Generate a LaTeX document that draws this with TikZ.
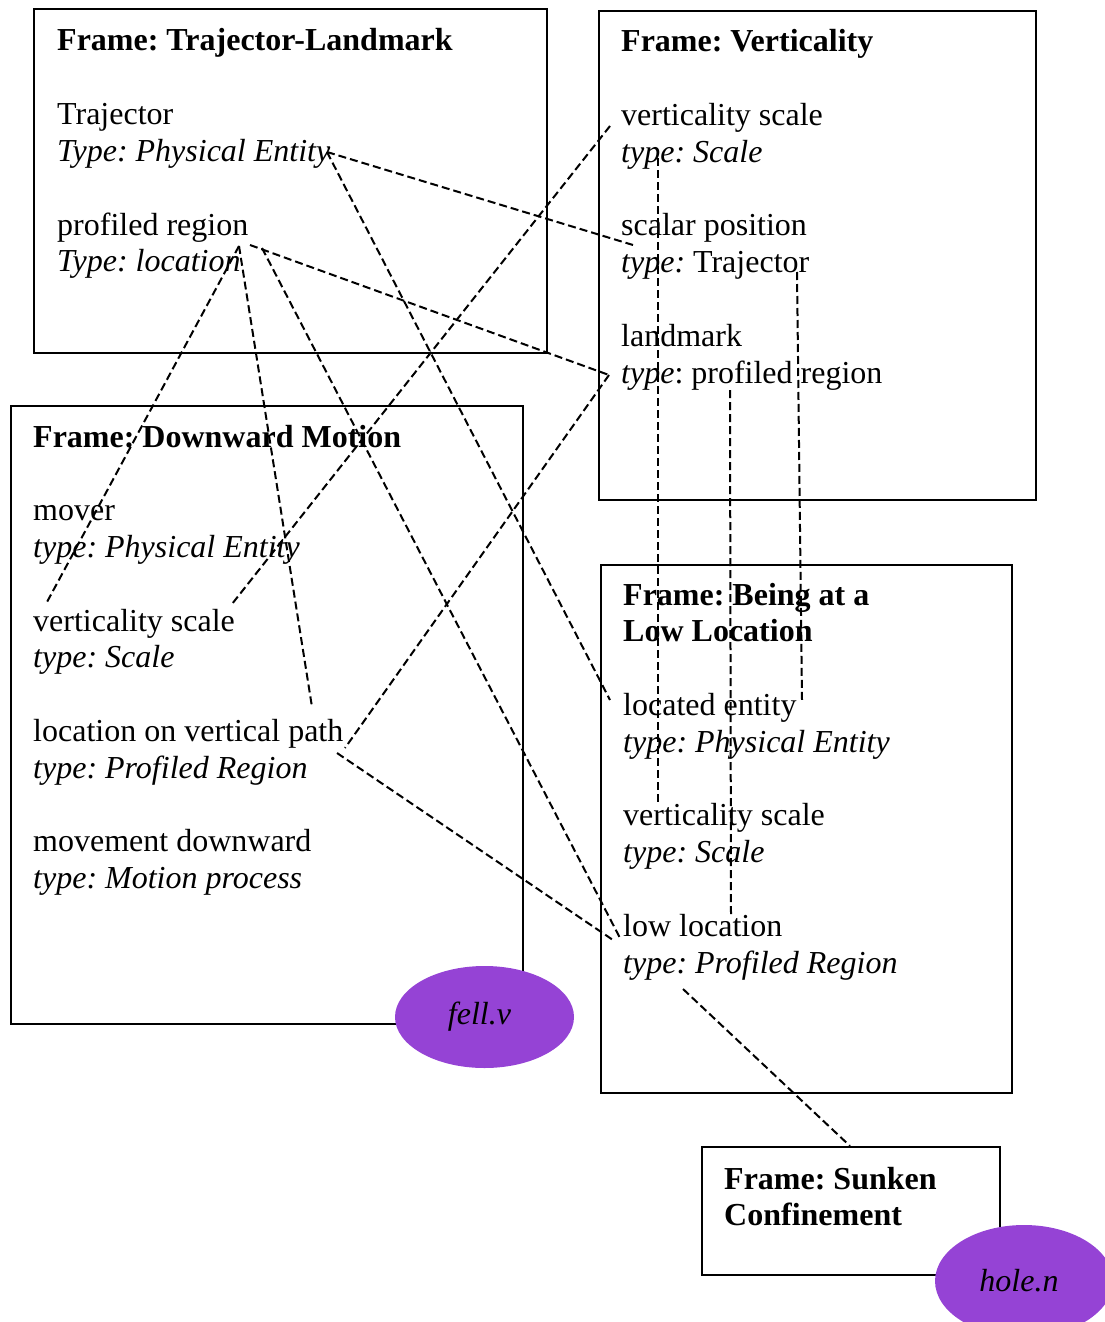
\documentclass[tikz,border=0pt]{standalone}
\usepackage{fontspec}
\setmainfont{Liberation Serif}
\usetikzlibrary{shapes.geometric}
\definecolor{lexpurple}{RGB}{149,67,213}
\tikzset{
  framebox/.style={draw, line width=2.3pt, anchor=north west, inner sep=0pt, outer sep=0pt},
  slots/.style={anchor=base west, inner sep=0pt, font=\fontsize{32}{36.8}\selectfont\frenchspacing},
  link/.style={line width=2pt, dash pattern=on 8pt off 4pt},
  lexunit/.style={ellipse, fill=lexpurple, inner sep=0pt, minimum width=179pt,
                  minimum height=102pt, font=\fontsize{32}{36.8}\selectfont\itshape}
}
\begin{document}
\begin{tikzpicture}[x=1pt, y=-1pt]
\useasboundingbox (0,0) rectangle (1105,1322);
\clip (0,0) rectangle (1105,1322);

% frame boxes
\node[framebox, minimum width=513pt, minimum height=344pt] (tl) at (34,9) {};
\node[framebox, minimum width=437pt, minimum height=489pt] (vt) at (599,11) {};
\node[framebox, minimum width=512pt, minimum height=618pt] (dm) at (11,406) {};
\node[framebox, minimum width=411pt, minimum height=528pt] (bl) at (601,565) {};
\node[framebox, minimum width=298pt, minimum height=128pt] (sc) at (702,1147) {};

% frame contents
\node[slots] (tltext) at (57,51) {\begin{tabular}[t]{@{}l@{}}
\textbf{Frame: Trajector-Landmark}\\
\\
Trajector\\
\textit{Type: Physical Entity}\\
\\
profiled region\\
\textit{Type: location}
\end{tabular}};

\node[slots] (vttext) at (621,52) {\begin{tabular}[t]{@{}l@{}}
\textbf{Frame: Verticality}\\
\\
verticality scale\\
\textit{type: Scale}\\
\\
scalar position\\
\textit{type:} Trajector\\
\\
landmark\\
\textit{type}: profiled region
\end{tabular}};

\node[slots] (dmtext) at (33,447) {\begin{tabular}[t]{@{}l@{}}
\textbf{Frame: Downward Motion}\\
\\
mover\\
\textit{type: Physical Entity}\\
\\
verticality scale\\
\textit{type: Scale}\\
\\
location on vertical path\\
\textit{type: Profiled Region}\\
\\
movement downward\\
\textit{type: Motion process}
\end{tabular}};

\node[slots] (bltext) at (623,605) {\begin{tabular}[t]{@{}l@{}}
\textbf{Frame: Being at a}\\
\textbf{Low Location}\\
\\
located entity\\
\textit{type: Physical Entity}\\
\\
verticality scale\\
\textit{type: Scale}\\
\\
low location\\
\textit{type: Profiled Region}
\end{tabular}};

\node[slots] (sctext) at (724,1189) {\begin{tabular}[t]{@{}l@{}}
\textbf{Frame: Sunken}\\
\textbf{Confinement}
\end{tabular}};

% connector end points beside the slot texts
\coordinate (tlEntity)  at (327,152);
\coordinate (tlRegA)    at (239,246);
\coordinate (tlRegB)    at (250,245);
\coordinate (tlRegC)    at (262,248);
\coordinate (vtScaleW)  at (610,126);
\coordinate (vtScalarW) at (633,245);
\coordinate (vtLandW)   at (609,375);
\coordinate (vtScaleS)  at (658,158);
\coordinate (vtTrajS)   at (797,272);
\coordinate (vtProfS)   at (730,390);
\coordinate (dmMover)   at (47,602);
\coordinate (dmScale)   at (232,604);
\coordinate (dmPathN)   at (312,707);
\coordinate (dmPathE)   at (345,748);
\coordinate (dmPathSE)  at (337,753);
\coordinate (blEntityW) at (610,700);
\coordinate (blEntityE) at (802,700);
\coordinate (blScaleN)  at (658,803);
\coordinate (blLowN)    at (731,917);
\coordinate (blLowW)    at (620,938);
\coordinate (blLowW2)   at (613,940);
\coordinate (blRegionS) at (683,989);
\coordinate (scTop)     at (850,1146);

% slot links
\draw[link] (tlEntity) -- (vtScalarW);
\draw[link] (tlEntity) -- (blEntityW);
\draw[link] (tlRegB) -- (vtLandW);
\draw[link] (vtLandW) -- (dmPathE);
\draw[link] (vtScaleW) -- (dmScale);
\draw[link] (tlRegA) -- (dmMover);
\draw[link] (tlRegA) -- (dmPathN);
\draw[link] (tlRegC) -- (blLowW);
\draw[link] (dmPathSE) -- (blLowW2);
\draw[link] (blRegionS) -- (scTop);
\draw[link] (vtScaleS) -- (blScaleN);
\draw[link] (vtTrajS) -- (blEntityE);
\draw[link] (vtProfS) -- (blLowN);

% lexical units
\node[lexunit] (fell) at (484.5,1017) {fell.v\kern10pt};
\node[lexunit, minimum width=178pt, minimum height=112pt] (hole) at (1024,1281) {hole.n\kern10pt};
\end{tikzpicture}
\end{document}
